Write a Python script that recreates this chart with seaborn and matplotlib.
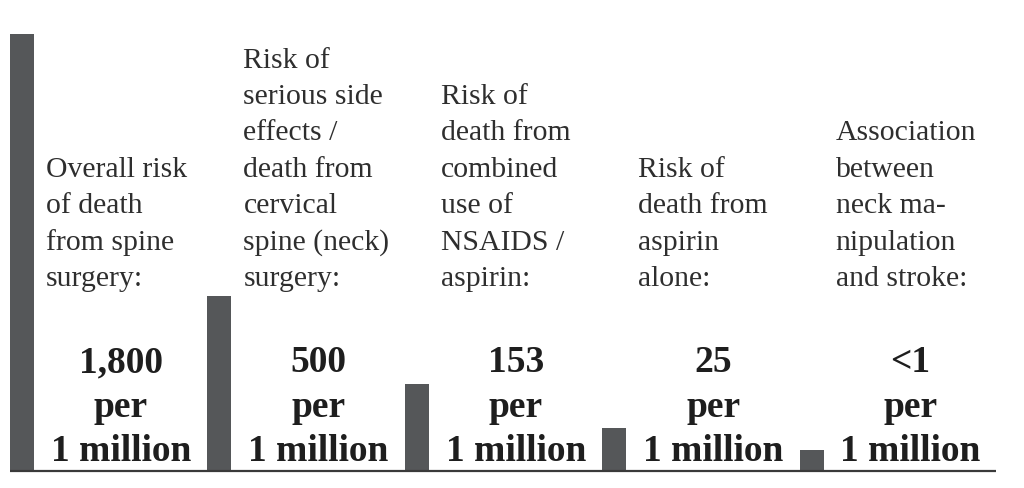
import matplotlib
matplotlib.use("Agg")
import matplotlib.pyplot as plt
import seaborn as sns
import pandas as pd

# ---- data ----
categories = [
    "Overall risk\nof death\nfrom spine\nsurgery:",
    "Risk of\nserious side\neffects /\ndeath from\ncervical\nspine (neck)\nsurgery:",
    "Risk of\ndeath from\ncombined\nuse of\nNSAIDS /\naspirin:",
    "Risk of\ndeath from\naspirin\nalone:",
    "Association\nbetween\nneck ma-\nnipulation\nand stroke:",
]
risk_values = [1800, 500, 153, 25, 1]
value_labels = ["1,800", "500", "153", "25", "<1"]
unit_lines = ["per", "1 million"]
bar_heights = [437, 175, 87, 43, 21]   # visual bar heights (not to scale)

df = pd.DataFrame({"group": [str(i) for i in range(len(categories))],
                   "height": bar_heights})

sns.set_theme(style="white")
plt.rcParams["font.family"] = ["Liberation Serif", "DejaVu Serif"]

W, H = 1024, 488
fig = plt.figure(figsize=(W / 100, H / 100), dpi=100)
base_px = 471
ax = fig.add_axes([10 / W, (H - base_px) / H, 986 / W, base_px / H])

spacing = 197.4
sns.barplot(data=df, x="group", y="height", color="#555759", saturation=1,
            width=24 / spacing, ax=ax, linewidth=0)

x0 = -(22 - 10) / spacing
ax.set_xlim(x0, x0 + 986 / spacing)
ax.set_ylim(0, base_px)
ax.axis("off")
ax.plot([0, 1], [0, 0], transform=ax.transAxes, color="#3a3a3a", lw=1.6,
        clip_on=False, solid_capstyle="butt")

line_h = 36.4
label_base = base_px - 286
for i, lab in enumerate(categories):
    lines = lab.split("\n")
    n = len(lines)
    for j, ln in enumerate(lines):
        y = label_base + (n - 1 - j) * line_h
        ax.text(i + (46 - 22) / spacing, y, ln, ha="left", va="baseline",
                fontsize=21.4, color="#2e2e2e")

num_base = [base_px - 372, base_px - 417, base_px - 461]
for i, v in enumerate(value_labels):
    cx = i + (121 - 22) / spacing
    for txt, y in zip([v] + unit_lines, num_base):
        ax.text(cx, y, txt, ha="center", va="baseline", fontsize=27,
                fontweight="bold", color="#1e1e1e")

fig.savefig("out.png", dpi=100)
